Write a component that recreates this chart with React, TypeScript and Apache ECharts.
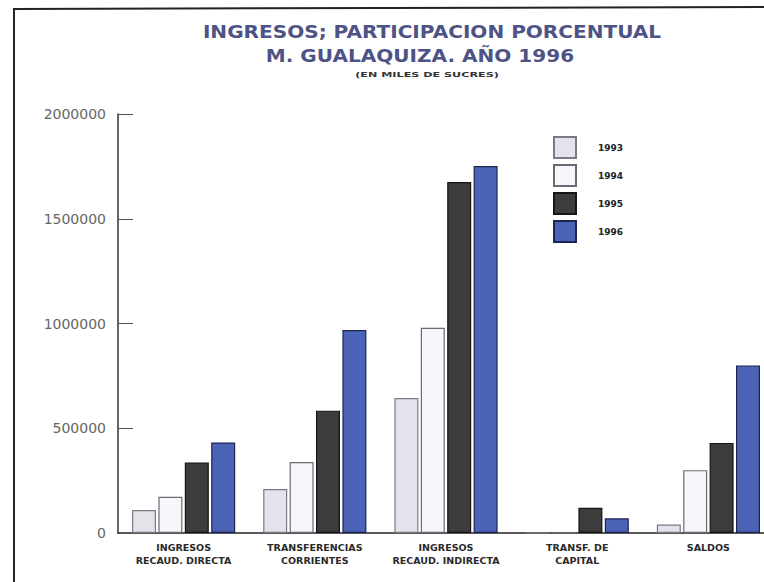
import React, { useEffect, useRef } from "react";
import * as echarts from "echarts";

const categories = [
  "INGRESOS\nRECAUD. DIRECTA",
  "TRANSFERENCIAS\nCORRIENTES",
  "INGRESOS\nRECAUD. INDIRECTA",
  "TRANSF. DE\nCAPITAL",
  "SALDOS",
];
const years = ["1993", "1994", "1995", "1996"];
const v1993 = [110000, 210000, 644000, 0, 40000];
const v1994 = [173000, 339000, 980000, 0, 300000];
const v1995 = [337000, 584000, 1675000, 120000, 430000];
const v1996 = [432000, 969000, 1752000, 70000, 800000];
const yTicks = [0, 500000, 1000000, 1500000, 2000000];

const fills = ["#e3e3ec", "#f6f6fb", "#3c3c3c", "#4b63b6"];
const borders = ["#7a7a85", "#6a6a75", "#151515", "#1c2552"];

export default function App() {
  const ref = useRef<HTMLDivElement>(null);
  useEffect(() => {
    if (!ref.current) return;
    const chart = echarts.init(ref.current, null, { renderer: "svg" });
    const values = [v1993, v1994, v1995, v1996];
    chart.setOption({
      animation: false,
      backgroundColor: "#ffffff",
      grid: { left: 118, top: 114, width: 656, height: 419 },
      legend: {
        orient: "vertical",
        left: 548,
        top: 131,
        itemWidth: 22,
        itemHeight: 21,
        itemGap: 5,
        icon: "rect",
        data: years,
        textStyle: {
          fontFamily: "DejaVu Sans",
          fontSize: 9,
          fontWeight: "bold",
          color: "#222",
          padding: [0, 0, 0, 17],
        },
      },
      graphic: [
        {
          type: "line",
          shape: { x1: 13, y1: 9, x2: 764, y2: 7 },
          style: { stroke: "#222", lineWidth: 2 },
        },
        {
          type: "line",
          shape: { x1: 14, y1: 9, x2: 14, y2: 582 },
          style: { stroke: "#222", lineWidth: 2 },
        },
        {
          type: "text",
          x: 432,
          y: 32,
          scaleX: 1.18,
          style: {
            text: "INGRESOS; PARTICIPACION PORCENTUAL",
            fontFamily: "DejaVu Sans",
            fontSize: 17,
            fontWeight: "bold",
            fill: "#4e5385",
            align: "center",
            verticalAlign: "middle",
          },
        },
        {
          type: "text",
          x: 420,
          y: 56,
          scaleX: 1.18,
          style: {
            text: "M. GUALAQUIZA. AÑO 1996",
            fontFamily: "DejaVu Sans",
            fontSize: 17,
            fontWeight: "bold",
            fill: "#4e5385",
            align: "center",
            verticalAlign: "middle",
          },
        },
        {
          type: "text",
          x: 427,
          y: 74,
          scaleX: 1.6,
          style: {
            text: "(EN MILES DE SUCRES)",
            fontFamily: "DejaVu Sans",
            fontSize: 7,
            fontWeight: "bold",
            fill: "#333",
            align: "center",
            verticalAlign: "middle",
          },
        },
      ],
      xAxis: {
        type: "category",
        data: categories,
        axisLine: { lineStyle: { color: "#222", width: 1.5 } },
        axisTick: { show: false },
        axisLabel: {
          interval: 0,
          margin: 8,
          fontFamily: "DejaVu Sans",
          fontSize: 9.5,
          fontWeight: "bold",
          lineHeight: 13,
          color: "#2a2a2a",
        },
      },
      yAxis: {
        type: "value",
        min: 0,
        max: 2000000,
        interval: 500000,
        axisLine: { show: true, lineStyle: { color: "#333", width: 1.5 } },
        axisTick: { show: true, inside: true, length: 15, lineStyle: { color: "#555" } },
        splitLine: { show: false },
        axisLabel: {
          margin: 12,
          fontFamily: "DejaVu Sans",
          fontSize: 14,
          color: "#666",
          formatter: (v: number) => (yTicks.includes(v) ? String(v) : ""),
        },
      },
      series: years.map((y, i) => ({
        name: y,
        type: "bar",
        data: values[i],
        barWidth: 24,
        barGap: "10%",
        itemStyle: { color: fills[i], borderColor: borders[i], borderWidth: 1.2 },
      })),
    });
    return () => chart.dispose();
  }, []);
  return (
    <div
      style={{
        position: "fixed",
        left: 0,
        top: 0,
        width: 764,
        height: 582,
        overflow: "hidden",
      }}
    >
      <div ref={ref} style={{ width: 780, height: 582 }} />
    </div>
  );
}
